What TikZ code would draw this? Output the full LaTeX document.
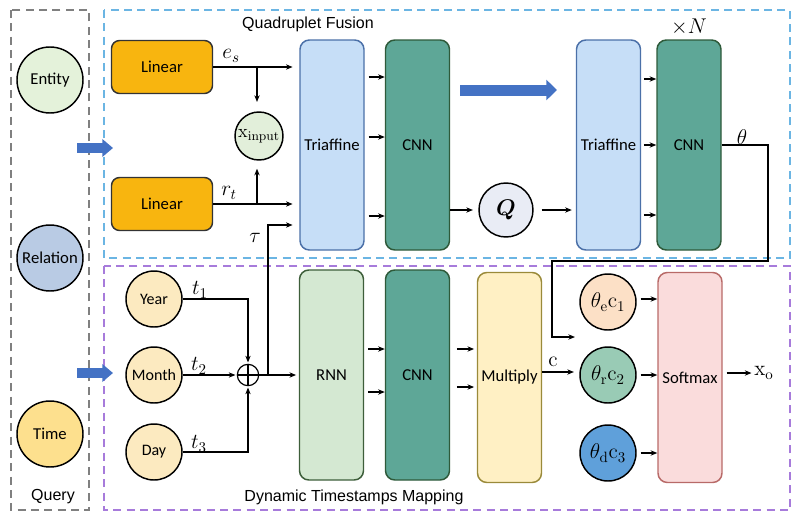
\documentclass[tikz,border=0pt]{standalone}
\usepackage{fix-cm}
\usepackage[no-math]{fontspec}
\setmainfont{Carlito}
\newfontfamily\arialfont{Liberation Sans}
\usepackage{bm}
\usetikzlibrary{arrows.meta}
\definecolor{linC}{HTML}{F8B50F}
\definecolor{entC}{HTML}{E4F2DA}
\definecolor{relC}{HTML}{B9CBE4}
\definecolor{timeC}{HTML}{FDE08E}
\definecolor{ymdC}{HTML}{FCEAC0}
\definecolor{xinC}{HTML}{E2EFDA}
\definecolor{triC}{HTML}{C6DEF7}
\definecolor{triB}{HTML}{4B70A8}
\definecolor{cnnC}{HTML}{5EA797}
\definecolor{cnnB}{HTML}{2E5A3A}
\definecolor{rnnC}{HTML}{D4E8D2}
\definecolor{rnnB}{HTML}{3D5E3A}
\definecolor{mulC}{HTML}{FFF0C4}
\definecolor{mulB}{HTML}{9A8A3A}
\definecolor{smC}{HTML}{FADCDC}
\definecolor{smB}{HTML}{B86A68}
\definecolor{qC}{HTML}{E9ECF5}
\definecolor{t1C}{HTML}{FCE0C6}
\definecolor{t2C}{HTML}{99CBB5}
\definecolor{t3C}{HTML}{5FA0DA}
\definecolor{bigArr}{HTML}{4472C4}
\definecolor{blueDash}{HTML}{6BB5E3}
\definecolor{purpDash}{HTML}{A77BDB}
\definecolor{grayDash}{HTML}{808080}
\tikzset{
  arr/.style={line width=0.9pt, -{Stealth[length=5pt,width=4pt]}},
  tall/.style={draw, rounded corners=7pt, line width=1.1pt, minimum width=48pt, minimum height=157.5pt, inner sep=1pt, font=\fontsize{12.5}{14}\selectfont},
  linbox/.style={draw=black!80, fill=linC, rounded corners=6pt, line width=1.1pt, minimum width=75.75pt, minimum height=39.75pt, font=\fontsize{12.5}{14}\selectfont},
  qcirc/.style={draw, circle, line width=1.1pt, minimum size=49.5pt, inner sep=0pt, font=\fontsize{12.5}{14}\selectfont},
  scirc/.style={draw, circle, line width=1.1pt, minimum size=42pt, inner sep=0pt, font=\fontsize{12}{14}\selectfont},
  mlab/.style={inner sep=0pt, font=\fontsize{16}{18}\selectfont},
  clab/.style={label={[inner sep=0pt, font=\fontsize{16}{18}\selectfont]center:#1}},
  frame/.style={line width=1pt, dash pattern=on 6pt off 4pt},
  title/.style={inner sep=0pt, font=\arialfont\fontsize{12}{14}\selectfont}
}
\begin{document}
\begin{tikzpicture}[x=0.75pt,y=-0.75pt]
\useasboundingbox (0,0) rectangle (800,532);
% frames
\draw[frame, draw=grayDash] (11,10) rectangle (89,510);
\draw[frame, draw=blueDash] (104,10) rectangle (790,258);
\draw[frame, draw=purpDash] (104,266) rectangle (790,510);
\node[title] (tq) at (53,497) {Query};
\node[title] (tqf) at (308,24) {Quadruplet Fusion};
\node[title] (tdm) at (354,497) {Dynamic Timestamps Mapping};
% query circles
\node[qcirc, fill=entC] (ent) at (50,80) {Entity};
\node[qcirc, fill=relC] (rel) at (50,258) {Relation};
\node[qcirc, fill=timeC] (tim) at (50,434) {Time};
% big blue arrows
\coordinate (ba1s) at (77,148); \coordinate (ba1e) at (113,148);
\coordinate (ba2s) at (77,373); \coordinate (ba2e) at (113,373);
\coordinate (ba3s) at (460,90); \coordinate (ba3e) at (557,90);
\draw[bigArr, line width=7.5pt, -{Triangle[length=8pt,width=13pt]}] (ba1s) -- (ba1e);
\draw[bigArr, line width=7.5pt, -{Triangle[length=8pt,width=13pt]}] (ba2s) -- (ba2e);
\draw[bigArr, line width=8.25pt, -{Triangle[length=8pt,width=15pt]}] (ba3s) -- (ba3e);
% upper part
\node[linbox] (lin1) at (162,67) {Linear};
\node[linbox] (lin2) at (162,204) {Linear};
\node[draw, circle, fill=xinC, line width=1.1pt, minimum size=36pt, inner sep=0pt,
      label={[inner sep=0pt, font=\fontsize{14}{16}\selectfont]center:$\mathrm{x}_{\mathrm{input}}$}] (xin) at (259,136) {};
\node[tall, fill=triC, draw=triB] (tri1) at (332,145) {Triaffine};
\node[tall, fill=cnnC, draw=cnnB] (cnn1) at (417.5,145) {CNN};
\node[draw, circle, fill=qC, line width=1.1pt, minimum size=40.5pt, inner sep=0pt,
      label={[inner sep=0pt, font=\fontsize{17}{19}\selectfont]center:$\bm{Q}$}] (Q) at (506,210) {};
\node[tall, fill=triC, draw=triB] (tri2) at (608.5,145) {Triaffine};
\node[tall, fill=cnnC, draw=cnnB] (cnn2) at (689,145) {CNN};
\node[mlab] (xN) at (689,27) {$\times N$};
\node[mlab] (les) at (231,56) {$e_s$};
\node[mlab] (lrt) at (229,193) {$r_t$};
\node[mlab] (ltau) at (255,238) {$\tau$};
\node[mlab] (lth) at (742,137) {$\theta$};
% lower part
\node[scirc, fill=ymdC] (year) at (154,299) {Year};
\node[scirc, fill=ymdC] (month) at (154,375) {Month};
\node[scirc, fill=ymdC] (day) at (154,452) {Day};
\node[draw, circle, line width=0.9pt, minimum size=16pt, inner sep=0pt] (op) at (248,375) {};
\draw[line width=0.9pt] (op.north) -- (op.south) (op.west) -- (op.east);
\node[mlab] (lt1) at (200,290) {$t_1$};
\node[mlab] (lt2) at (199,366) {$t_2$};
\node[mlab] (lt3) at (199,444) {$t_3$};
\node[tall, fill=rnnC, draw=rnnB] (rnn) at (331.5,375) {RNN};
\node[tall, fill=cnnC, draw=cnnB] (cnn3) at (417.5,375) {CNN};
\node[tall, fill=mulC, draw=mulB] (mul) at (509.5,377.5) {Multiply};
\node[scirc, fill=t1C, clab={$\theta_{\mathrm{e}}\mathrm{c}_1$}] (th1) at (608,302) {};
\node[scirc, fill=t2C, clab={$\theta_{\mathrm{r}}\mathrm{c}_2$}] (th2) at (608,375) {};
\node[scirc, fill=t3C, clab={$\theta_{\mathrm{d}}\mathrm{c}_3$}] (th3) at (608,453) {};
\node[tall, fill=smC, draw=smB] (soft) at (690,377.5) {Softmax};
\node[mlab] (lc) at (553,362) {$\mathrm{c}$};
\node[mlab] (xo) at (764,373) {$\mathrm{x}_{\mathrm{o}}$};
% upper connectors
\draw[arr, shorten >=5pt] (lin1.east) -- (tri1.west |- lin1.east);
\coordinate (b1) at (257,67);
\draw[arr, shorten >=7pt] (b1) -- (b1 |- xin.north);
\draw[arr, shorten >=5pt] (lin2.east) -- (tri1.west |- lin2.east);
\coordinate (b2) at (257,204);
\draw[arr, shorten >=6pt] (b2) -- (b2 |- xin.south);
\coordinate (jt) at (268,375);
\draw[arr, shorten >=5pt] (jt) |- (tri1.west |- 0,225);
\foreach \y in {77,137,216} \draw[arr, shorten <=3pt] (tri1.east |- 0,\y) -- (cnn1.west |- 0,\y);
\draw[arr, shorten >=4pt] (cnn1.east |- Q.west) -- (Q.west);
\draw[arr, shorten <=6pt, shorten >=3pt] (Q.east) -- (tri2.west |- Q.east);
\foreach \y in {79,145,215} \draw[arr, shorten <=2pt] (tri2.east |- 0,\y) -- (cnn2.west |- 0,\y);
\coordinate (thend) at (575,337);
\draw[arr] (cnn2.east) -- (768,145) -- (768,261) -- (552,261) |- (thend);
% lower connectors
\draw[arr, shorten >=1pt] (year.east) -| (op.north);
\draw[arr, shorten >=1pt] (month.east) -- (op.west);
\draw[arr, shorten >=1pt] (day.east) -| (op.south);
\draw[arr, shorten >=2pt] (op.east) -- (rnn.west |- op.east);
\foreach \y in {349,392} \draw[arr, shorten <=3pt] (rnn.east |- 0,\y) -- (cnn3.west |- 0,\y);
\foreach \y in {349,387} \draw[arr, shorten <=5pt, shorten >=2pt] (cnn3.east |- 0,\y) -- (mul.west |- 0,\y);
\draw[arr, shorten >=4pt] (mul.east |- 0,372) -- (th2.west |- 0,372);
\draw[arr, shorten <=3pt] (th1.east |- 0,299) -- (soft.west |- 0,299);
\draw[arr, shorten <=3pt] (th2.east) -- (soft.west |- th2.east);
\draw[arr, shorten <=3pt] (th3.east) -- (soft.west |- th3.east);
\draw[arr, shorten <=3pt, shorten >=2pt] (soft.east |- xo.west) -- (xo.west);
\end{tikzpicture}
\end{document}
